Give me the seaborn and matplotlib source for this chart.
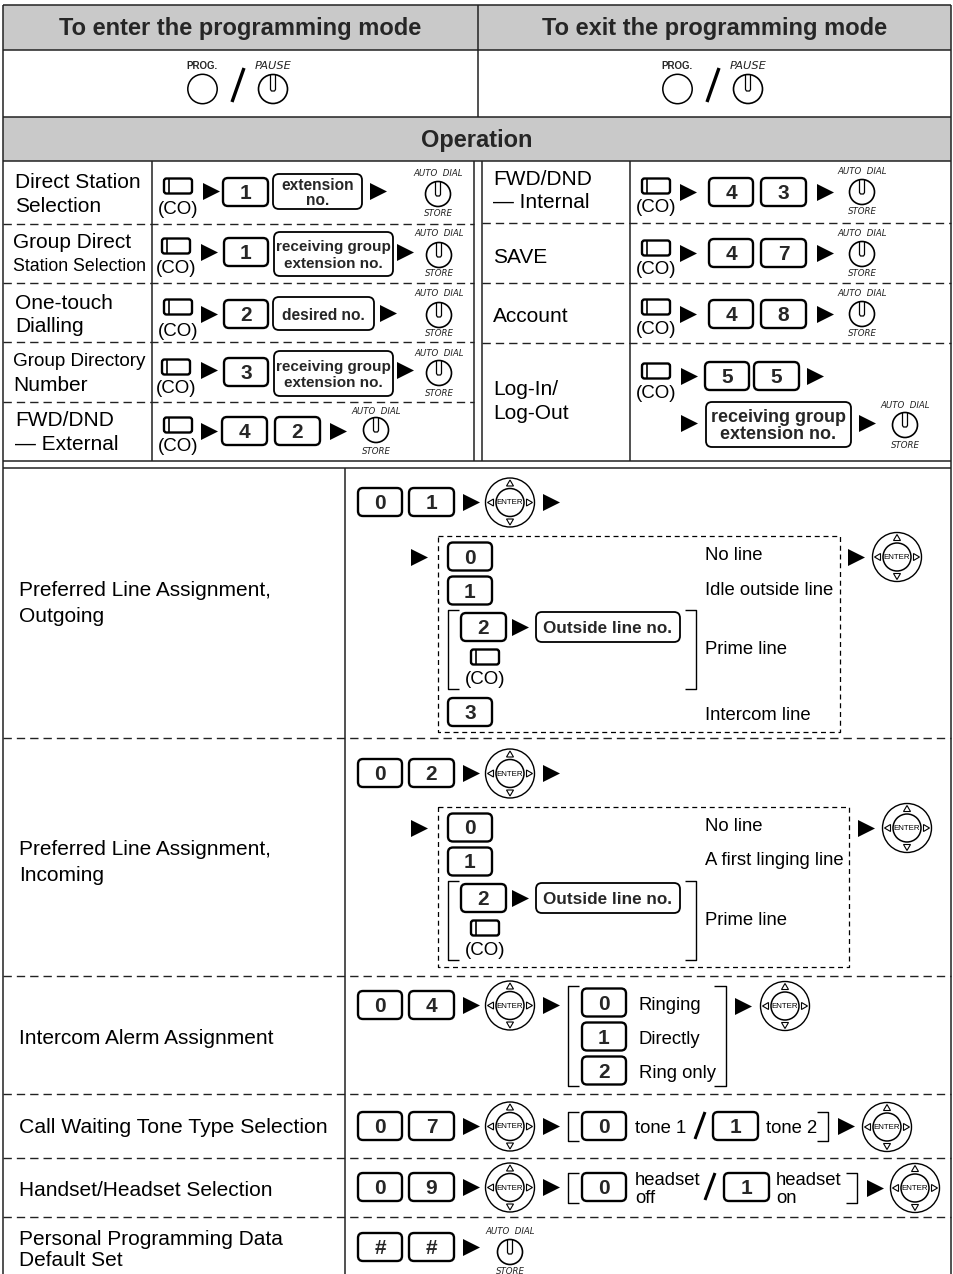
import matplotlib
matplotlib.use('Agg')
import matplotlib.pyplot as plt
import seaborn as sns
from matplotlib.patches import FancyBboxPatch, Circle, Polygon, Rectangle

# texts of the card
header_titles = ['To enter the programming mode', 'To exit the programming mode']
operation_title = 'Operation'
top_left_names = [['Direct Station', 'Selection'], ['Group Direct', 'Station Selection'], ['One-touch', 'Dialling'],
                  ['Group Directory', 'Number'], ['FWD/DND', '— External']]
top_right_names = [['FWD/DND', '— Internal'], ['SAVE'], ['Account'], ['Log-In/', 'Log-Out']]
lower_names = [['Preferred Line Assignment,', 'Outgoing'], ['Preferred Line Assignment,', 'Incoming'],
               ['Intercom Alerm Assignment'], ['Call Waiting Tone Type Selection'],
               ['Handset/Headset Selection'], ['Personal Programming Data', 'Default Set']]
outgoing_options = ['No line', 'Idle outside line', 'Prime line', 'Intercom line']
incoming_options = ['No line', 'A first linging line', 'Prime line']
alarm_options = ['Ringing', 'Directly', 'Ring only']
tone_options = ['tone 1', 'tone 2']
headset_off = ['headset', 'off']
headset_on = ['headset', 'on']
group_no = 'receiving group\nextension no.'
outside_no = 'Outside line no.'

sns.set_theme(style='white')
plt.rcParams['font.family'] = ['Liberation Sans', 'DejaVu Sans']

fig = plt.figure(figsize=(9.54, 12.74), dpi=100)
ax = fig.add_axes([0, 0, 1, 1])
ax.set_xlim(0, 954)
ax.set_ylim(1274, 0)
ax.axis('off')

arrows = []


def txt(x, y, s, size=15.0, ha='left', weight='normal', style='normal'):
    # y is the middle of the capitals
    ax.text(x, y + size * 0.44, s, fontsize=size, ha=ha, va='baseline', color='black',
            fontweight=weight, fontstyle=style, zorder=5)


def names(x, ys, lines, size=15.0):
    for y, s in zip(ys, lines):
        txt(x, y, s, size)


def line(xs, ys, lw=1.1, color='#222222', ls='-', z=2):
    ax.plot(xs, ys, color=color, lw=lw, ls=ls, zorder=z, solid_capstyle='butt')


def dash(x0, x1, y):
    line([x0, x1], [y, y], lw=1.0, ls=(0, (6, 3.6)))


def key(x0, x1, yc, s, h=28):
    ax.add_patch(FancyBboxPatch((x0, yc - h / 2), x1 - x0, h, boxstyle='round,pad=0,rounding_size=5',
                                fc='white', ec='black', lw=1.7, zorder=3))
    ax.text((x0 + x1) / 2, yc + 1.5, s, fontsize=15, fontweight='bold', ha='center', va='center', zorder=5)


def bubble(x0, x1, y0, y1, s, size=11.2, spacing=1.0):
    ax.add_patch(FancyBboxPatch((x0, y0), x1 - x0, y1 - y0, boxstyle='round,pad=0,rounding_size=6',
                                fc='white', ec='black', lw=1.3, zorder=3))
    ax.text((x0 + x1) / 2, (y0 + y1) / 2 + 1.5, s, fontsize=size, fontweight='bold', ha='center', va='center',
            linespacing=spacing, zorder=5)


def co_button(cx, y):
    ax.add_patch(FancyBboxPatch((cx - 14, y - 7.5), 28, 15, boxstyle='round,pad=0,rounding_size=2.5',
                                fc='white', ec='black', lw=1.7, zorder=3))
    line([cx - 9, cx - 9], [y - 7.5, y + 7.5], lw=1.2, color='black', z=4)


def co(cx, y, ycap):
    co_button(cx, y)
    txt(cx, ycap, '(CO)', 13.5, ha='center')


def dial(cx, cy, yauto, ystore, r=12.5):
    ax.add_patch(Circle((cx, cy), r, fc='white', ec='black', lw=1.2, zorder=3))
    ax.plot([cx - 2.5, cx - 2.5, cx - 1.5, cx + 1.5, cx + 2.5, cx + 2.5],
            [cy - r + 1, cy + 0.5, cy + 2, cy + 2, cy + 0.5, cy - r + 1], color='black', lw=0.9, zorder=4)
    if yauto is not None:
        ax.text(cx, yauto, 'AUTO  DIAL', fontsize=6.2, fontstyle='italic', ha='center', va='center',
                family=['DejaVu Sans'], color='#222222', zorder=5)
        ax.text(cx, ystore, 'STORE', fontsize=6.2, fontstyle='italic', ha='center', va='center',
                family=['DejaVu Sans'], color='#222222', zorder=5)


def enter(cx, cy):
    ax.add_patch(Circle((cx, cy), 24.5, fc='white', ec='black', lw=1.0, zorder=3))
    ax.add_patch(Circle((cx, cy), 14, fc='white', ec='black', lw=1.1, zorder=4))
    ax.text(cx, cy + 0.5, 'ENTER', fontsize=5.7, ha='center', va='center', color='black', zorder=5)
    a, b, w = 22.5, 16.5, 3.5
    for pts in ([(0, -a), (-w, -b), (w, -b)], [(0, a), (-w, b), (w, b)],
                [(-a, 0), (-b, -w), (-b, w)], [(a, 0), (b, -w), (b, w)]):
        ax.add_patch(Polygon([(cx + p, cy + q) for p, q in pts], closed=True, fc='white', ec='black',
                             lw=0.8, zorder=4))


def bracket(x0, x1, y0, y1, side='left'):
    if side == 'left':
        line([x1, x0, x0, x1], [y0, y0, y1, y1], lw=1.0, color='black')
    else:
        line([x0, x1, x1, x0], [y0, y0, y1, y1], lw=1.0, color='black')


def slash(x0, y0, x1, y1, lw=2.2):
    line([x0, x1], [y0, y1], lw=lw, color='black')


# grey header bands
for y0, y1 in [(5, 50), (117, 161)]:
    ax.add_patch(Rectangle((3.5, y0), 947.5, y1 - y0, fc='#c9c9c9', ec='none', zorder=1))

# frame
line([3.5, 3.5], [5, 1274])
line([951, 951], [5, 1274])
for y in [5, 50, 117, 161, 461, 468]:
    line([3.5, 951], [y, y])
line([478, 478], [5, 117])
for x in [152, 474, 482, 630]:
    line([x, x], [161, 461])
line([345, 345], [468, 1274])
for y in [224, 283, 342, 402]:
    dash(3.5, 474, y)
for y in [223, 283, 343]:
    dash(482, 951, y)
for y in [738, 976, 1094, 1158, 1217]:
    dash(3.5, 951, y)

# headers
for cx, title in zip([240.5, 715], header_titles):
    ax.text(cx, 28.5, title, fontsize=17, fontweight='bold', ha='center', va='center', zorder=5)
ax.text(477, 141, operation_title, fontsize=17, fontweight='bold', ha='center', va='center', zorder=5)

for off in [0, 475]:
    ax.text(202.5 + off, 66, 'PROG.', fontsize=7, fontweight='bold', ha='center', va='center', zorder=5)
    ax.add_patch(Circle((202.5 + off, 89), 14.7, fc='white', ec='black', lw=1.1, zorder=3))
    slash(232 + off, 102, 244 + off, 68, lw=2.4)
    dial(273 + off, 89, None, None, r=14.5)
    ax.text(273 + off, 66, 'PAUSE', fontsize=8.2, fontstyle='italic', ha='center', va='center',
            family=['DejaVu Sans'], color='#222222', zorder=5)

# upper left rows
names(15, [181, 205], top_left_names[0])
names(13, [241], top_left_names[1][:1])
names(13, [265], top_left_names[1][1:], 12.8)
names(15, [302, 325], top_left_names[2])
names(13, [360], top_left_names[3][:1], 13.6)
names(13, [384], top_left_names[3][1:])
names(15, [419, 443], top_left_names[4])

co(178, 186, 208); key(223, 268, 192, '1'); bubble(273, 362, 174, 209, 'extension\nno.')
dial(438, 194, 174, 214); arrows += [(211, 191), (378, 191)]
co(176, 246, 267); key(224, 268, 252, '1'); bubble(274, 393, 232, 276, group_no, 11, 1.25)
dial(439, 255, 234, 274); arrows += [(209, 252), (405, 252)]
co(178, 307, 330); key(224, 268, 314, '2'); bubble(273, 374, 297, 330, 'desired no.')
dial(439, 315, 294, 334); arrows += [(209, 314), (388, 313)]
co(176, 367, 387); key(224, 268, 372, '3'); bubble(274, 393, 351, 396, group_no, 11, 1.25)
dial(439, 373, 353, 393); arrows += [(209, 370), (405, 370)]
co(178, 425, 445); key(222, 267, 431, '4'); key(275, 320, 431, '2')
dial(376, 430, 411, 452); arrows += [(209, 431), (338, 431)]

# upper right rows
names(493, [178, 201], top_right_names[0])
names(493, [256], top_right_names[1])
names(493, [315], top_right_names[2])
names(493, [388, 412], top_right_names[3])

for ycoy, ycap, yk, d, s2 in [(186, 206, 192, 192, '3'), (248, 268, 253, 254, '7'), (307, 328, 314, 314, '8')]:
    co(656, ycoy, ycap)
    key(709, 753, yk, '4')
    key(761, 806, yk, s2)
    dial(862, d, d - 20, d + 20)
    arrows += [(688, yk - 0.5), (825, yk - 0.5)]

co(656, 371, 392); key(705, 749, 376, '5'); key(754, 799, 376, '5')
arrows += [(689, 376), (815, 376), (689, 423), (867, 423)]
bubble(706, 851, 402, 447, group_no, 13)
dial(905, 425, 406, 446)

# lower left names
names(19, [589, 615], lower_names[0])
names(19, [848, 874], lower_names[1])
names(19, [1037], lower_names[2])
names(19, [1126], lower_names[3], 15.3)
names(19, [1189], lower_names[4])
names(19, [1238, 1259], lower_names[5])


def start(y, s1, s2, end_enter=True):
    key(358, 402, y, s1)
    key(409, 454, y, s2)
    arrows.append((471, y))
    if end_enter:
        enter(510, y + 0.5)
        arrows.append((551, y))


def line_block(box, options, yopt, xarrow, xenter, yenter):
    line([box[0], box[1], box[1], box[0], box[0]], [box[2], box[2], box[3], box[3], box[2]], lw=0.9,
         color='black', ls=(0, (4, 3)))
    base = box[2] - 536
    arrows.append((419, 557 + base))
    key(448, 492, 556.5 + base, '0')
    key(448, 492, 590.5 + base, '1')
    bracket(448, 459, 610 + base, 689 + base)
    key(461, 506, 627 + base, '2')
    arrows.append((520, 627 + base))
    bubble(536, 680, 612 + base, 642 + base, outside_no, 12.3)
    co(485, 657 + base, 678 + base)
    bracket(685, 696, 610 + base, 689 + base, 'right')
    for yy, s in zip(yopt, options):
        txt(705, yy, s, 13.3)
    arrows.append((xarrow, yenter))
    enter(xenter, yenter)


# 01 / 02 blocks
start(502, '0', '1')
line_block((438, 840, 536, 732), outgoing_options, [554, 589, 648, 714], 856, 897, 557)
key(448, 492, 712, '3')
start(773, '0', '2')
line_block((438, 849, 807, 967), incoming_options, [825, 859, 919], 866, 907, 828)

# 04
start(1005, '0', '4')
bracket(568, 579, 986, 1086)
for yk, s, yt, o in zip([1002.5, 1036.5, 1070.5], '012', [1004, 1038, 1072], alarm_options):
    key(582, 626, yk, s)
    txt(639, yt, o, 13.3)
bracket(714.5, 726, 986, 1086, 'right')
arrows.append((743, 1006))
enter(785, 1006)

# 07
start(1126, '0', '7')
bracket(568, 579, 1112, 1141)
key(582, 626, 1126, '0')
txt(635, 1127, tone_options[0], 13.3)
slash(695, 1139, 705, 1112)
key(713, 758, 1126, '1')
txt(766, 1127, tone_options[1], 13.3)
bracket(817, 828, 1112, 1141, 'right')
arrows.append((846, 1126))
enter(887, 1127)

# 09
start(1187, '0', '9')
bracket(568, 579, 1173, 1203)
key(582, 626, 1187, '0')
names(635, [1179, 1197], headset_off, 13.3)
slash(705, 1200, 715, 1173)
key(724, 769, 1187, '1')
names(776, [1179, 1197], headset_on, 13.3)
bracket(846, 857, 1173, 1203, 'right')
arrows.append((875, 1188))
enter(915, 1188)

# ##
start(1247, '#', '#', end_enter=False)
dial(510, 1252, 1232, 1271)

# all the little black arrows
sns.scatterplot(x=[p[0] for p in arrows], y=[p[1] for p in arrows], marker='>', s=150, color='black',
                linewidth=0, ax=ax, zorder=6, legend=False)
ax.set_xlim(0, 954)
ax.set_ylim(1274, 0)
ax.axis('off')

fig.savefig('out.png', dpi=100, facecolor='white')
